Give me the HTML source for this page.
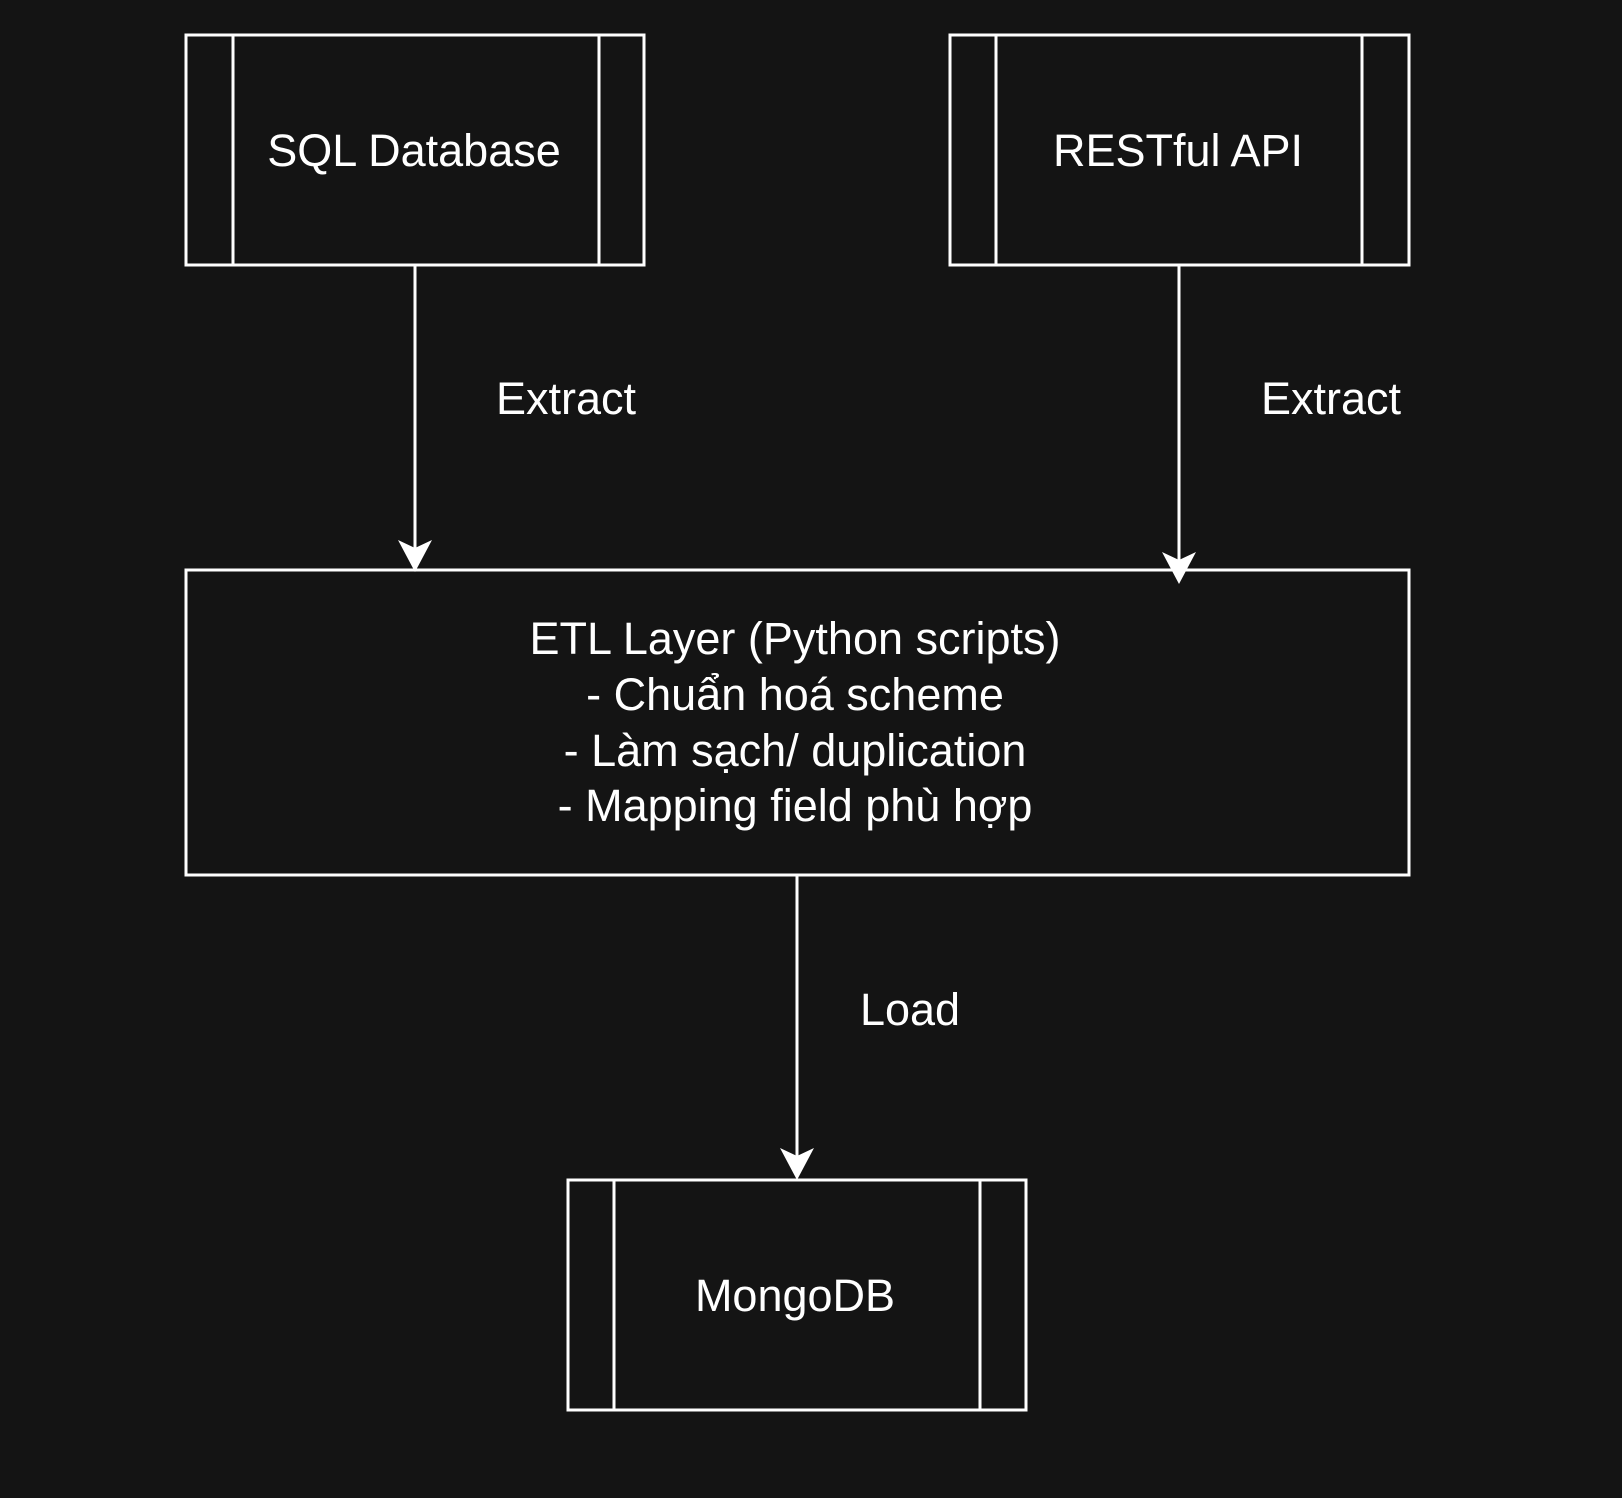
<!DOCTYPE html>
<html><head><meta charset="utf-8"><style>
html,body{margin:0;padding:0;background:#141414;}
svg{display:block}
text{font-family:"Liberation Sans",Arial,sans-serif;font-size:45px;fill:#fff;}
</style></head><body>
<svg width="1622" height="1498" viewBox="0 0 1622 1498" xmlns="http://www.w3.org/2000/svg">
<rect width="1622" height="1498" fill="#141414"/>
<g fill="none" stroke="#fff" stroke-width="3">
<rect x="186" y="35" width="458" height="230"/>
<line x1="233" y1="35" x2="233" y2="265"/><line x1="599" y1="35" x2="599" y2="265"/>
<rect x="950" y="35" width="459" height="230"/>
<line x1="996" y1="35" x2="996" y2="265"/><line x1="1362" y1="35" x2="1362" y2="265"/>
<rect x="186" y="570" width="1223" height="305"/>
<rect x="568" y="1180" width="458" height="230"/>
<line x1="614" y1="1180" x2="614" y2="1410"/><line x1="980" y1="1180" x2="980" y2="1410"/>
<line x1="415" y1="265" x2="415" y2="560"/>
<line x1="1179" y1="265" x2="1179" y2="572"/>
<line x1="797" y1="875" x2="797" y2="1168"/>
</g>
<g fill="#fff">
<path d="M415 572 L398 540 L415 548 L432 540 Z"/>
<path d="M1179 584 L1162 552 L1179 560 L1196 552 Z"/>
<path d="M797 1180 L780 1148 L797 1156 L814 1148 Z"/>
</g>
<g text-anchor="middle">
<text x="414" y="166">SQL Database</text>
<text x="1178" y="166">RESTful API</text>
<text x="795" y="654">ETL Layer (Python scripts)</text>
<text x="795" y="710">- Chuẩn hoá scheme</text>
<text x="795" y="766">- Làm sạch/ duplication</text>
<text x="795" y="821">- Mapping field phù hợp</text>
<text x="795" y="1311">MongoDB</text>
<text x="566" y="414">Extract</text>
<text x="1331" y="414">Extract</text>
<text x="910" y="1025">Load</text>
</g>
</svg>
</body></html>
